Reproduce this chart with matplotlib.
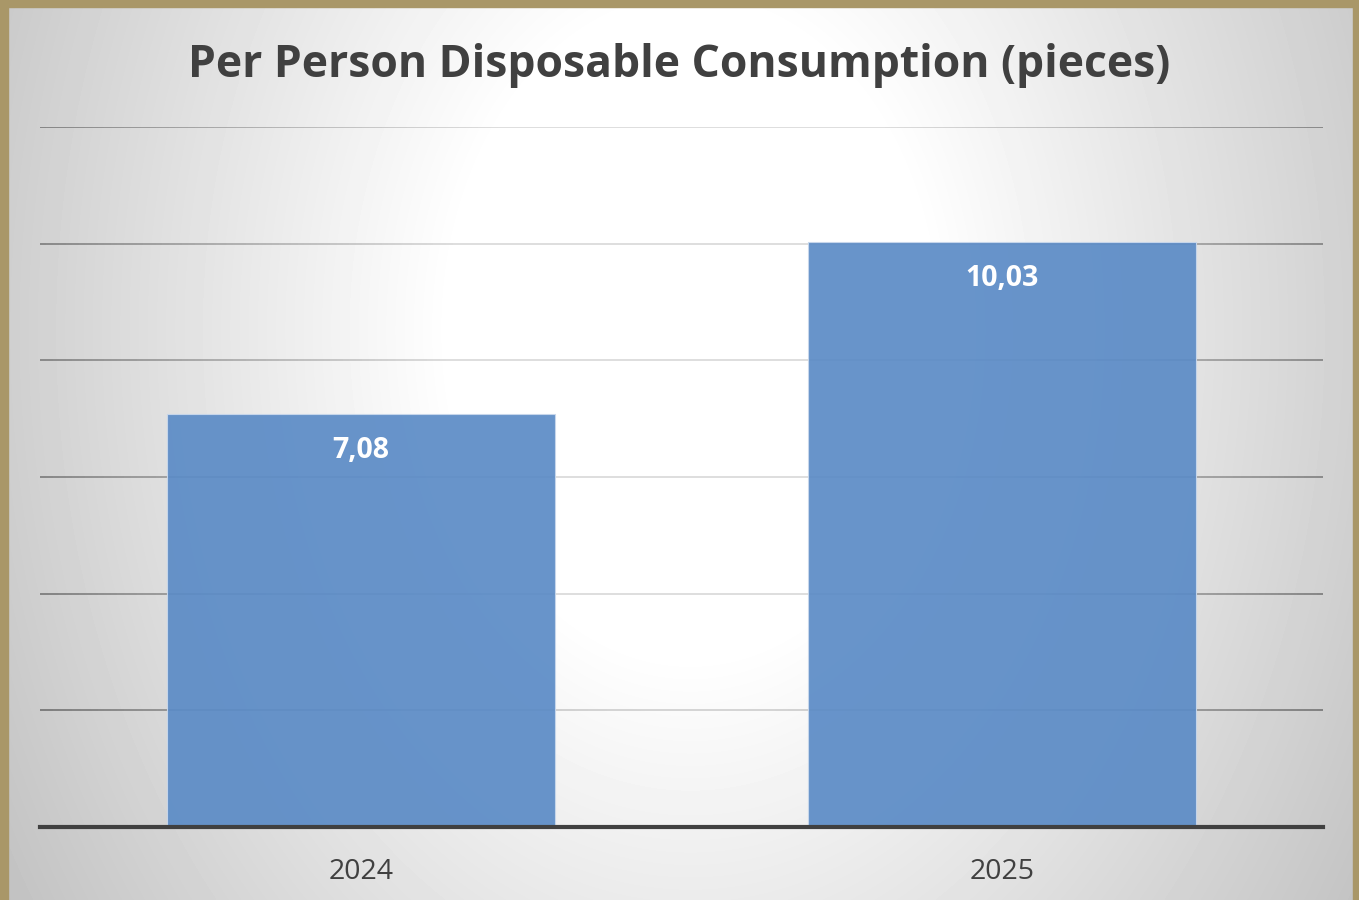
import matplotlib.pyplot as plt
import matplotlib.patches as mpatches
from matplotlib.collections import LineCollection
import numpy as np

plt.rcParams['font.family'] = ['Open Sans', 'DejaVu Sans']

# data
years = ['2024', '2025']
pieces = [7.08, 10.03]
value_labels = ['7,08', '10,03']
y_ticks = [2, 4, 6, 8, 10, 12]

bar_color = '#5b8bc6'
frame_color = '#a99768'
text_color = '#404040'

W, H = 1359, 900
fig = plt.figure(figsize=(W / 100, H / 100), dpi=100)

# radial grey background, white in the upper middle
cx, cy, ystretch = 690, 330, 1.35


def shade_at(px, py):
    r = np.hypot(px - cx, (py - cy) / ystretch)
    return np.clip(1.0 - 0.000426 * np.clip(r - 240, 0, None), 0.74, 1.0)


bg = fig.add_axes([0, 0, 1, 1], zorder=0)
yy, xx = np.mgrid[0:H, 0:W]
shade = shade_at(xx, yy)
bg.imshow(shade, cmap='gray', vmin=0, vmax=1, extent=[0, W, H, 0], aspect='auto')
bg.set_xlim(0, W)
bg.set_ylim(H, 0)
bg.set_axis_off()

# gold frame (left, top, right)
bg.add_patch(mpatches.Rectangle((0, 0), 8, H, color=frame_color, zorder=3))
bg.add_patch(mpatches.Rectangle((0, 0), W, 7, color=frame_color, zorder=3))
bg.add_patch(mpatches.Rectangle((W - 6, 0), 6, H, color=frame_color, zorder=3))

ax_left, ax_right, ax_bottom, ax_top = 40, 1323, 827, 127
ax = fig.add_axes([ax_left / W, 1 - ax_bottom / H, (ax_right - ax_left) / W,
                   (ax_bottom - ax_top) / H], zorder=1)
ax.patch.set_visible(False)
ax.set_xlim(-0.5, 1.5)
ax.set_ylim(0, 12)

# gridlines: darker where the background is darker
xs = np.linspace(-0.5, 1.5, 200)
segs, cols = [], []
for v in y_ticks:
    py = ax_bottom - v * (ax_bottom - ax_top) / 12
    for x0, x1 in zip(xs[:-1], xs[1:]):
        px = ax_left + ((x0 + x1) / 2 + 0.5) / 2 * (ax_right - ax_left)
        g = np.clip(0.86 - 2.0 * (1 - shade_at(px, py)), 0.4, 1.0)
        segs.append([(x0, v), (x1, v)])
        cols.append((g, g, g, 1.0))
ax.add_collection(LineCollection(segs, colors=cols, linewidths=1.3, zorder=1))

x = np.arange(len(years))
bars = ax.bar(x, pieces, width=0.605, color=bar_color, alpha=0.92,
              edgecolor='#c9d8ec', linewidth=0.8, zorder=2)

ax.set_yticks([])
ax.set_xticks(x)
ax.set_xticklabels(years, fontsize=20.5, color=text_color)
ax.tick_params(axis='x', length=0, pad=22)
for side in ['top', 'right', 'left']:
    ax.spines[side].set_visible(False)
ax.spines['bottom'].set_color('#404040')
ax.spines['bottom'].set_linewidth(3)
ax.spines['bottom'].set_zorder(4)

for b, lab in zip(bars, value_labels):
    ax.annotate(lab, (b.get_x() + b.get_width() / 2, b.get_height()),
                xytext=(0, -26), textcoords='offset points',
                ha='center', va='center', color='white',
                fontsize=20.5, fontweight='bold', zorder=5)

fig.text(0.5, 1 - 65 / H, 'Per Person Disposable Consumption (pieces)',
         ha='center', va='center', fontsize=32, fontweight='bold', color=text_color)

fig.savefig('out.png', dpi=100)
